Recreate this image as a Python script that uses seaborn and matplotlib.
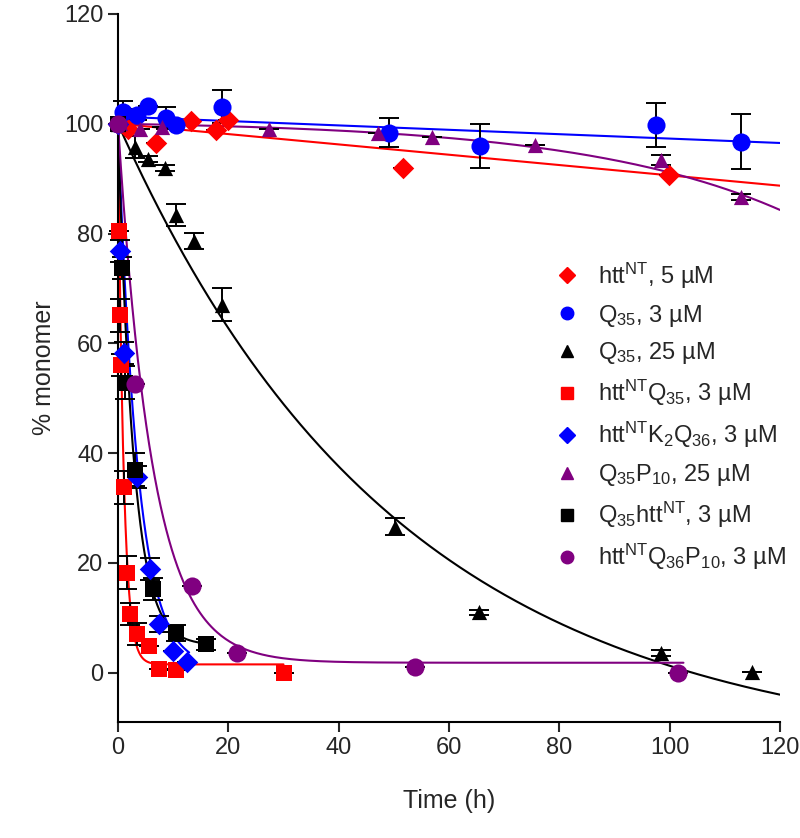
import numpy as np
import pandas as pd
import matplotlib
matplotlib.use("Agg")
import matplotlib.pyplot as plt
import seaborn as sns
from matplotlib.lines import Line2D

# ---- data ---------------------------------------------------------------
htt5_t = [0, 1.8, 6.9, 13.3, 17.8, 19.9, 51.6, 99.9]
htt5_y = [100, 99.0, 96.5, 100.5, 98.9, 100.7, 92.0, 90.7]
htt5_err = [0, 0, 0, 0, 0, 0, 0, 0]

q35_3_t = [0, 0.9, 3.4, 5.5, 8.7, 10.5, 18.9, 49.2, 65.6, 97.6, 113.0]
q35_3_y = [100, 102.2, 101.6, 103.3, 101.0, 99.8, 103.1, 98.4, 96.0, 99.8, 96.7]
q35_3_err = [0, 2.0, 1.0, 0, 2.0, 0, 3.0, 2.7, 4.0, 4.0, 5.0]

q35_25_t = [0, 3.0, 5.5, 8.6, 10.5, 13.7, 18.9, 50.3, 65.4, 98.5, 115.0]
q35_25_y = [100, 95.7, 93.6, 91.9, 83.3, 78.6, 67.0, 26.6, 11.0, 3.6, 0.2]
q35_25_err = [0, 2.0, 0.5, 0.5, 2.0, 1.5, 3.0, 1.5, 0.5, 0.5, 0]

httq35_t = [0, 0.2, 0.4, 0.6, 1.1, 1.7, 2.1, 3.5, 5.6, 7.5, 10.5, 30.0]
httq35_y = [100, 80.4, 65.1, 56.1, 33.8, 18.2, 10.6, 7.1, 4.8, 0.7, 0.4, 0.0]
httq35_err = [0, 0, 3.0, 2.0, 3.0, 3.0, 2.0, 2.0, 0, 0, 0, 0]

k2_t = [0, 0.4, 1.1, 3.4, 5.8, 7.4, 10.0, 12.5]
k2_y = [100, 76.9, 58.3, 35.6, 18.8, 8.9, 3.9, 1.9]
k2_err = [0, 2.0, 2.0, 2.0, 2.0, 1.5, 0, 0]

q35p10_t = [0, 0.4, 3.9, 8.0, 27.4, 47.1, 57.0, 75.6, 98.4, 113.0]
q35p10_y = [100, 100.2, 99.1, 99.5, 99.1, 98.4, 97.5, 96.2, 93.4, 86.7]
q35p10_err = [0, 0, 0, 0, 0, 0, 0, 0, 1.0, 0.5]

q35htt_t = [0, 0.8, 1.3, 3.1, 6.4, 10.6, 16.0]
q35htt_y = [100, 73.7, 52.8, 37.0, 15.3, 7.2, 5.2]
q35htt_err = [0, 2.0, 3.0, 3.0, 2.0, 1.5, 1.0]

p10_t = [0, 3.1, 13.4, 21.6, 53.8, 101.5]
p10_y = [100, 52.6, 15.7, 3.5, 1.0, 0.0]
p10_err = [0, 0, 0, 0, 0, 0]

labels = [
    r"htt$^{NT}$, 5 µM",
    r"Q$_{35}$, 3 µM",
    r"Q$_{35}$, 25 µM",
    r"htt$^{NT}$Q$_{35}$, 3 µM",
    r"htt$^{NT}$K$_{2}$Q$_{36}$, 3 µM",
    r"Q$_{35}$P$_{10}$, 25 µM",
    r"Q$_{35}$htt$^{NT}$, 3 µM",
    r"htt$^{NT}$Q$_{36}$P$_{10}$, 3 µM",
]
colors = ["#ff0000", "#0000ff", "#000000", "#ff0000",
          "#0000ff", "#800080", "#000000", "#800080"]
markers = ["D", "o", "^", "s", "D", "^", "s", "o"]
sizes = [120, 170, 120, 120, 120, 120, 120, 170]

series = [
    (htt5_t, htt5_y, htt5_err),
    (q35_3_t, q35_3_y, q35_3_err),
    (q35_25_t, q35_25_y, q35_25_err),
    (httq35_t, httq35_y, httq35_err),
    (k2_t, k2_y, k2_err),
    (q35p10_t, q35p10_y, q35p10_err),
    (q35htt_t, q35htt_y, q35htt_err),
    (p10_t, p10_y, p10_err),
]

# fitted curves: kind, params, end time
fit_kind = ["lin", "lin", "exp", "exp", "exp", "grow", "exp", "exp"]
fit_params = [
    (100.0, -0.094),
    (101.3, -0.040),
    (115.0, 0.01957, -15.0),
    (98.5, 1.0, 1.5),
    (99.0, 0.28, 1.0),
    (100.0, 0.64, 0.027),
    (95.0, 0.36, 5.0),
    (98.2, 0.16, 1.8),
]
fit_end = [120, 120, 120, 30, 12.9, 120, 16.9, 102.5]


def fit_curve(kind, p, t):
    if kind == "lin":
        return p[0] + p[1] * t
    if kind == "exp":
        return p[0] * np.exp(-p[1] * t) + p[2]
    return p[0] - p[1] * (np.exp(p[2] * t) - 1)


# ---- styling --------------------------------------------------------------
sns.set_style("ticks")
plt.rcParams["font.family"] = ["Liberation Sans", "DejaVu Sans"]
plt.rcParams["mathtext.default"] = "regular"

fig = plt.figure(figsize=(8.0, 8.38), dpi=100)
ax = fig.add_axes([0.1475, 0.1384, 0.8275, 0.8449])

for i, (t, y, err) in enumerate(series):
    tt = np.linspace(0, fit_end[i], 400)
    sns.lineplot(x=tt, y=fit_curve(fit_kind[i], fit_params[i], tt), ax=ax,
                 color=colors[i], lw=1.5, zorder=2)

for i, (t, y, err) in enumerate(series):
    ax.errorbar(t, y, yerr=err, fmt="none", ecolor="black", elinewidth=1.4,
                capsize=7, capthick=1.4, zorder=3, clip_on=False)
    sns.scatterplot(x=t, y=y, ax=ax, marker=markers[i], color=colors[i],
                    s=sizes[i], edgecolor=colors[i], linewidth=0, zorder=4,
                    clip_on=False)

ax.set_xlim(0, 120)
ax.set_ylim(-9, 120)
ax.set_xticks(range(0, 121, 20))
ax.set_yticks(range(0, 121, 20))
ax.tick_params(labelsize=17, length=7, width=1.5, direction="out")
for s in ["left", "bottom"]:
    ax.spines[s].set_linewidth(1.5)
    ax.spines[s].set_color("black")
sns.despine(ax=ax)

ax.set_xlabel("Time (h)", fontsize=18, labelpad=22)
ax.set_ylabel("% monomer", fontsize=18, labelpad=6)

handles = [Line2D([], [], linestyle="none", marker=markers[i], color=colors[i],
                  markersize=9 if markers[i] != "D" else 8)
           for i in range(len(labels))]
ax.legend(handles, labels, loc="upper left", bbox_to_anchor=(0.646, 0.665),
          frameon=False, fontsize=17, handlelength=1.0, handletextpad=0.8,
          labelspacing=0.5, borderaxespad=0)

fig.savefig("out.png", dpi=100)
